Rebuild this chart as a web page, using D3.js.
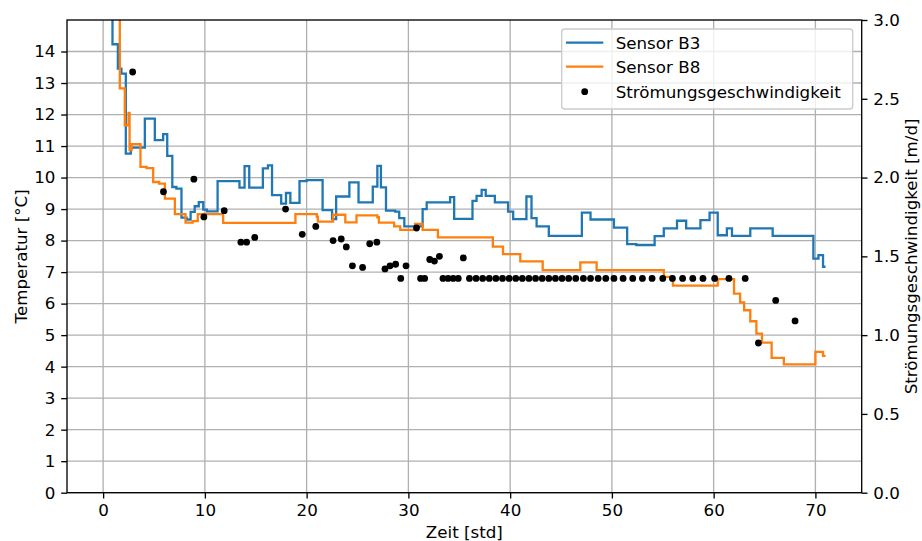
<!DOCTYPE html>
<html><head><meta charset="utf-8">
<script src="https://cdn.jsdelivr.net/npm/d3@7"></script>
<style>
body{margin:0;background:#fff;}
svg text{font-family:"DejaVu Sans",sans-serif;fill:#000;}
</style></head>
<body><svg id="c" width="922" height="541"></svg>
<script>
// ---------- data ----------
const xTicks = [0,10,20,30,40,50,60,70];
const yTicksLeft = [0,1,2,3,4,5,6,7,8,9,10,11,12,13,14];
const yTicksRight = [0,0.5,1.0,1.5,2.0,2.5,3.0];
const seriesNames = ["Sensor B3","Sensor B8","Strömungsgeschwindigkeit"];

// Sensor B3: time [std], temperature [°C] (step after)
const b3Time = [0,0.92,1.45,1.8,2.23,2.72,4.1,5.08,5.9,6.3,6.8,7.2,7.7,8.2,8.6,9.0,9.4,9.84,10.2,11.25,13.4,13.9,14.36,15.7,16.2,16.6,17.5,17.97,18.4,19.3,20.0,21.57,22.5,22.9,24.2,25.1,26.5,26.95,27.3,27.8,28.7,29.1,29.6,31.4,31.8,34.1,34.5,36.3,36.7,37.2,37.6,38.5,39.8,40.3,41.6,42.1,42.6,43.8,47.05,47.9,50.2,51.5,52.4,54.2,55.1,56.4,57.3,58.7,59.6,60.4,61.3,61.8,63.6,65.8,69.8,70.3,70.75,71.0];
const b3Temp = [17,14.23,13.46,13.3,10.76,10.95,11.87,11.19,11.38,10.69,9.70,9.65,8.73,8.67,8.91,9.09,9.22,8.98,8.93,9.89,9.68,10.36,9.68,10.29,10.39,9.44,9.17,9.51,9.2,9.89,9.92,8.97,8.68,9.4,9.85,9.21,9.71,10.37,9.69,8.95,8.92,8.71,8.45,9.0,9.21,9.38,8.69,9.26,9.42,9.61,9.42,9.21,8.92,8.68,9.4,8.71,8.45,8.15,8.89,8.67,8.41,7.89,7.86,8.14,8.39,8.63,8.39,8.65,8.89,8.17,8.39,8.15,8.39,8.15,7.43,7.54,7.17,7.17];

// Sensor B8
const b8Time = [0,1.64,2.13,2.5,2.6,2.8,3.67,4.27,4.92,5.5,6.07,7.05,8.1,8.8,9.3,11.8,18.9,21.0,21.1,22.6,23.8,24.9,26.95,27.1,28.6,29.2,30.65,31.4,32.9,38.3,39.3,41.0,43.2,46.9,48.5,55.1,56.0,60.4,62.0,62.6,63.0,63.6,64.2,64.75,65.7,66.9,70.0,70.75,71.0];
const b8Temp = [17,12.83,11.66,12.05,10.87,11.06,10.34,10.3,9.86,9.81,9.33,8.84,8.57,8.62,8.84,8.56,8.84,8.76,8.6,8.82,8.58,8.8,8.74,8.57,8.45,8.34,8.53,8.34,8.1,7.81,7.57,7.34,7.06,7.31,7.06,6.85,6.57,6.78,6.32,6.04,5.79,5.44,5.05,4.76,4.28,4.07,4.47,4.34,4.34];

// Strömungsgeschwindigkeit: time [std], velocity [m/d]
const flowTime = [2.9,5.93,8.92,9.9,11.9,13.54,14.1,14.9,17.93,19.57,20.9,22.6,23.4,23.9,24.5,25.5,26.2,26.9,27.7,28.2,28.75,29.25,29.77,30.8,31.2,31.6,32.1,32.56,33.05,33.4,33.9,34.4,34.9,35.4,36.0,36.65,37.3,37.95,38.6,39.25,39.9,40.55,41.2,41.85,42.5,43.15,43.8,44.45,45.1,45.75,46.45,47.2,47.9,48.65,49.4,50.2,51.1,52.05,53.0,53.95,55.0,55.95,56.95,57.95,58.95,60.1,61.5,63.1,64.4,66.1,68.0];
const flowVel = [2.67,1.91,1.99,1.75,1.79,1.59,1.59,1.62,1.80,1.64,1.69,1.60,1.61,1.56,1.44,1.43,1.58,1.59,1.42,1.44,1.45,1.36,1.44,1.68,1.36,1.36,1.48,1.47,1.50,1.36,1.36,1.36,1.36,1.49,1.36,1.36,1.36,1.36,1.36,1.36,1.36,1.36,1.36,1.36,1.36,1.36,1.36,1.36,1.36,1.36,1.36,1.36,1.36,1.36,1.36,1.36,1.36,1.36,1.36,1.36,1.36,1.36,1.36,1.36,1.36,1.36,1.36,1.36,0.95,1.22,1.09];

// ---------- layout ----------
const L = 67, R = 861.7, T = 20, B = 492.7;
const FS = 16.7;
const svg = d3.select("#c");
const x = d3.scaleLinear().domain([-3.55, 74.55]).range([L, R]);
const yL = d3.scaleLinear().domain([0, 15]).range([B, T]);
const yR = d3.scaleLinear().domain([0, 3]).range([B, T]);

svg.append("defs").append("clipPath").attr("id","clip")
  .append("rect").attr("x",L).attr("y",T).attr("width",R-L).attr("height",B-T);

// grid
const grid = svg.append("g").attr("stroke","#b0b0b0").attr("stroke-width",1.33);
grid.selectAll(".gx").data(xTicks).join("line")
  .attr("x1",d=>x(d)).attr("x2",d=>x(d)).attr("y1",T).attr("y2",B);
grid.selectAll(".gy").data(yTicksLeft).join("line")
  .attr("y1",d=>yL(d)).attr("y2",d=>yL(d)).attr("x1",L).attr("x2",R);

// lines
const plot = svg.append("g").attr("clip-path","url(#clip)");
const b3 = b3Time.map((t,i)=>[t,b3Temp[i]]);
const b8 = b8Time.map((t,i)=>[t,b8Temp[i]]);
const line = d3.line().x(d=>x(d[0])).y(d=>yL(d[1])).curve(d3.curveStepAfter);
plot.append("path").datum(b3).attr("d",line).attr("fill","none")
  .attr("stroke","#1f77b4").attr("stroke-width",2.3).attr("stroke-linejoin","miter");
plot.append("path").datum(b8).attr("d",line).attr("fill","none")
  .attr("stroke","#ff7f0e").attr("stroke-width",2.3).attr("stroke-linejoin","miter");

// dots
const flow = flowTime.map((t,i)=>[t,flowVel[i]]);
plot.selectAll("circle.f").data(flow).join("circle")
  .attr("cx",d=>x(d[0])).attr("cy",d=>yR(d[1])).attr("r",3.4).attr("fill","#000");

// axes
function styleAxis(g){
  g.selectAll("text").style("font-size",FS+"px").style("font-family","DejaVu Sans");
  g.selectAll("line").attr("stroke","#000").attr("stroke-width",1.33);
  g.select(".domain").remove();
}
svg.append("g").attr("transform",`translate(0,${B})`)
  .call(d3.axisBottom(x).tickValues(xTicks).tickSize(5.8).tickPadding(5.8).tickFormat(d3.format("d")))
  .call(styleAxis);
svg.append("g").attr("transform",`translate(${L},0)`)
  .call(d3.axisLeft(yL).tickValues(yTicksLeft).tickSize(5.8).tickPadding(5.8).tickFormat(d3.format("d")))
  .call(styleAxis);
svg.append("g").attr("transform",`translate(${R},0)`)
  .call(d3.axisRight(yR).tickValues(yTicksRight).tickSize(5.8).tickPadding(5.8).tickFormat(d3.format(".1f")))
  .call(styleAxis);

// frame
svg.append("rect").attr("x",L).attr("y",T).attr("width",R-L).attr("height",B-T)
  .attr("fill","none").attr("stroke","#000").attr("stroke-width",1.33);

// axis labels
svg.append("text").attr("x",(L+R)/2).attr("y",538).attr("text-anchor","middle")
  .style("font-size",FS+"px").text("Zeit [std]");
svg.append("text").attr("transform",`translate(21,${(T+B)/2}) rotate(-90)`)
  .attr("text-anchor","middle").attr("dominant-baseline","central")
  .style("font-size",FS+"px").text("Temperatur [°C]");
svg.append("text").attr("transform",`translate(911,${(T+B)/2}) rotate(-90)`)
  .attr("text-anchor","middle").attr("dominant-baseline","central")
  .style("font-size",FS+"px").text("Strömungsgeschwindigkeit [m/d]");

// legend
const lg = svg.append("g");
lg.append("rect").attr("x",561.7).attr("y",29).attr("width",291).attr("height",80)
  .attr("rx",3).attr("fill","#fff").attr("fill-opacity",0.8)
  .attr("stroke","#cccccc").attr("stroke-width",1.33);
const legY = [42.7, 66.7, 91.7];
const legColors = ["#1f77b4","#ff7f0e","#000"];
seriesNames.forEach((n,i)=>{
  if(i<2){
    lg.append("line").attr("x1",566).attr("x2",603.3).attr("y1",legY[i]).attr("y2",legY[i])
      .attr("stroke",legColors[i]).attr("stroke-width",2.3);
  } else {
    lg.append("circle").attr("cx",584.7).attr("cy",legY[i]).attr("r",3.4).attr("fill","#000");
  }
  lg.append("text").attr("x",615.7).attr("y",legY[i]).attr("dominant-baseline","central")
    .style("font-size",FS+"px").text(n);
});
</script></body></html>
